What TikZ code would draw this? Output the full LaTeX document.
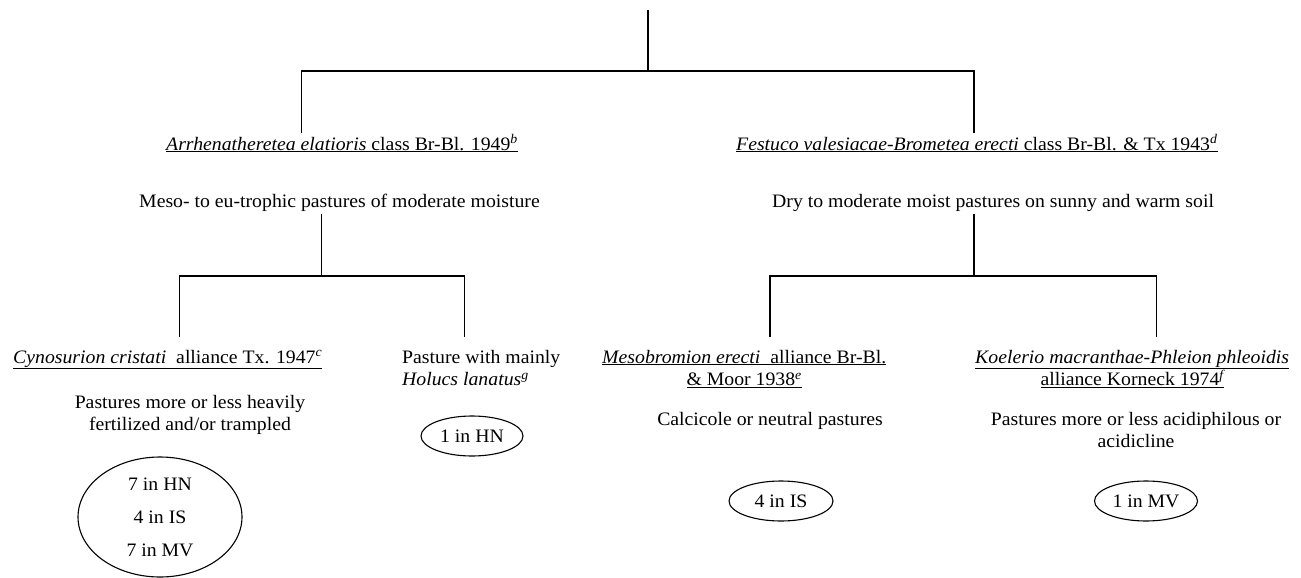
\documentclass[tikz,border=0pt]{standalone}
\usepackage{fontspec}
\setmainfont{Liberation Serif}[FakeStretch=1.04]
\usetikzlibrary{shapes.geometric, positioning}

\begin{document}
\begin{tikzpicture}[x=1pt, y=-1pt]
        % Styles
        \tikzstyle{taxon} = [inner sep=0pt, align=center, anchor=base west, font=\fontsize{19}{22.5}\selectfont]
        \tikzstyle{habitat} = [inner sep=0pt, align=center, anchor=base, font=\fontsize{19}{22.5}\selectfont]
        \tikzstyle{sites} = [ellipse, draw, line width=1.1pt, inner sep=0pt, align=center, font=\fontsize{19}{21}\selectfont]
        \tikzstyle{tree} = [line width=1.2pt]

        \useasboundingbox (0,0) rectangle (1301,578);

        % Nodes (base of a two-line node is its last line)
        \coordinate (root) at (648,10);
        \node[taxon] (arr) at (166,150) {\underline{\textit{Arrhenatheretea elatioris} class Br-Bl. 1949\textsuperscript{\itshape b}}};
        \node[taxon] (fes) at (736,150) {\underline{\textit{Festuco valesiacae-Brometea erecti} class Br-Bl. \& Tx 1943\textsuperscript{\itshape d}}};
        \node[taxon] (arrhab) at (139,207) {Meso- to eu-trophic pastures of moderate moisture};
        \node[taxon] (feshab) at (772,207) {Dry to moderate moist pastures on sunny and warm soil};

        \node[taxon] (cyn) at (13,363) {\underline{\textit{Cynosurion cristati}\ \ alliance Tx. 1947\textsuperscript{\itshape c}}};
        \node[taxon, align=left] (hol) at (402,385.5) {Pasture with mainly\\\textit{Holucs lanatus}\textsuperscript{\itshape g}};
        \node[taxon] (mes) at (602,385.5) {\underline{\textit{Mesobromion erecti}\ \ alliance Br-Bl.}\\\underline{\& Moor 1938\textsuperscript{\itshape e}}};
        \node[taxon] (koe) at (975,385.5) {\underline{\textit{Koelerio macranthae-Phleion phleoidis}}\\\underline{alliance Korneck 1974\textsuperscript{\itshape f}}};

        \node[habitat] (cynhab) at (190,430.5) {Pastures more or less heavily\\fertilized and/or trampled};
        \node[habitat] (meshab) at (770,425) {Calcicole or neutral pastures};
        \node[habitat] (koehab) at (1136,447.5) {Pastures more or less acidiphilous or\\acidicline};

        \node[sites, minimum width=164pt, minimum height=120pt] (cynsites) at (160,517) {7 in HN\\[12pt]4 in IS\\[12pt]7 in MV};
        \node[sites, minimum width=102pt, minimum height=40pt] (holsites) at (472,436) {1 in HN};
        \node[sites, minimum width=104pt, minimum height=40pt] (messites) at (781,501) {4 in IS};
        \node[sites, minimum width=103pt, minimum height=40pt] (koesites) at (1146,501) {1 in MV};

        % Line ends
        \coordinate (arrtop) at (301.7,133);
        \coordinate (festop) at (974,133);
        \coordinate (arrbot) at (321.7,214);
        \coordinate (fesbot) at (974,214);
        \coordinate (cyntop) at (179.3,337);
        \coordinate (holtop) at (464.3,337);
        \coordinate (mestop) at (770,337);
        \coordinate (koetop) at (1156.7,337);

        % Lines
        \draw[tree] (root) -- ++(0,61) coordinate (split) -| (arrtop);
        \draw[tree] (split) -| (festop);
        \draw[tree] (arrbot) -- ++(0,62) coordinate (arrsplit) -| (cyntop);
        \draw[tree] (arrsplit) -| (holtop);
        \draw[tree] (fesbot) -- ++(0,62) coordinate (fessplit) -| (mestop);
        \draw[tree] (fessplit) -| (koetop);

    \end{tikzpicture}
\end{document}
